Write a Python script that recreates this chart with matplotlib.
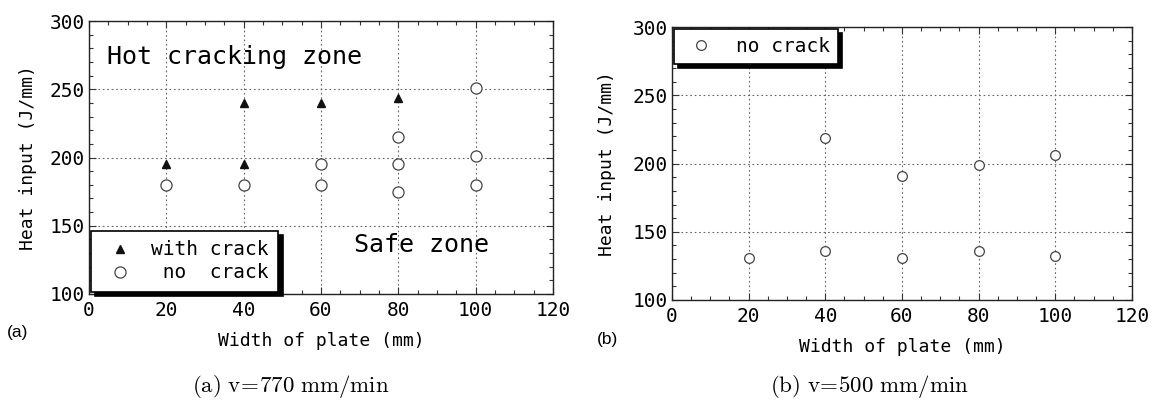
import matplotlib
matplotlib.use("Agg")
import matplotlib.pyplot as plt
from matplotlib.ticker import MultipleLocator

plt.rcParams['font.family'] = ['DejaVu Sans Mono']
plt.rcParams['mathtext.fontset'] = 'cm'

# (a) v=770 mm/min
crack_x_a = [20, 40, 40, 60, 80]
crack_y_a = [195, 195, 240, 240, 244]
nocrack_x_a = [20, 40, 60, 60, 80, 80, 80, 100, 100, 100]
nocrack_y_a = [180, 180, 180, 195, 175, 195, 215, 180, 201, 251]

# (b) v=500 mm/min
nocrack_x_b = [20, 40, 40, 60, 60, 80, 80, 100, 100]
nocrack_y_b = [131, 136, 219, 131, 191, 136, 199, 132, 206]

xticks = [0, 20, 40, 60, 80, 100, 120]
yticks = [100, 150, 200, 250, 300]


def style_axes(ax):
    ax.set_xlim(0, 120)
    ax.set_ylim(100, 300)
    ax.set_xticks(xticks)
    ax.set_yticks(yticks)
    ax.xaxis.set_minor_locator(MultipleLocator(5))
    ax.yaxis.set_minor_locator(MultipleLocator(10))
    ax.tick_params(which='both', direction='in', top=True, right=True,
                   color='#333333', width=0.8)
    ax.tick_params(which='major', length=5, labelsize=14)
    ax.tick_params(which='minor', length=3)
    ax.tick_params(axis='y', pad=3)
    ax.tick_params(axis='x', pad=5)
    ax.grid(True, which='major', linestyle=(0, (1.5, 2.5)), color='#666666', linewidth=0.8)
    for s in ax.spines.values():
        s.set_color('#222222')
        s.set_linewidth(1.0)
    ax.set_xlabel('Width of plate (mm)', fontsize=13)
    ax.set_ylabel('Heat input (J/mm)', fontsize=13)


fig = plt.figure(figsize=(11.54, 4.03), dpi=100)
ax1 = fig.add_axes([0.0771, 0.2705, 0.402, 0.677])
ax2 = fig.add_axes([0.5823, 0.2556, 0.3986, 0.677])

style_axes(ax1)
ax1.plot(crack_x_a, crack_y_a, linestyle='none', marker='^', color='#111111',
         markersize=6, label='with crack', zorder=3)
ax1.plot(nocrack_x_a, nocrack_y_a, linestyle='none', marker='o', markerfacecolor='white',
         markeredgecolor='#444444', markersize=8, markeredgewidth=0.9,
         label=' no  crack', zorder=3)
ax1.text(4.7, 273.5, 'Hot cracking zone', fontsize=18, va='center', ha='left')
ax1.text(68.5, 136, 'Safe zone', fontsize=18, va='center', ha='left')
leg1 = ax1.legend(loc='lower left', bbox_to_anchor=(0, 0), borderaxespad=0.1,
                  fancybox=False, edgecolor='black', framealpha=1, fontsize=14,
                  shadow={'color': 'black', 'alpha': 1, 'ox': 3, 'oy': -3},
                  handletextpad=0.6, borderpad=0.5, labelspacing=0.2)
leg1.get_frame().set_linewidth(1.2)
ax1.yaxis.set_label_coords(-0.112, 0.5)
ax1.xaxis.set_label_coords(0.5, -0.14)

style_axes(ax2)
ax2.plot(nocrack_x_b, nocrack_y_b, linestyle='none', marker='o', markerfacecolor='white',
         markeredgecolor='#444444', markersize=7, markeredgewidth=0.9,
         label='no crack', zorder=3)
leg2 = ax2.legend(loc='upper left', bbox_to_anchor=(0, 1), borderaxespad=0.1,
                  fancybox=False, edgecolor='black', framealpha=1, fontsize=14,
                  shadow={'color': 'black', 'alpha': 1, 'ox': 3, 'oy': -3},
                  handletextpad=0.8, borderpad=0.4)
leg2.get_frame().set_linewidth(1.2)
ax2.yaxis.set_label_coords(-0.122, 0.5)
ax2.xaxis.set_label_coords(0.5, -0.14)

# panel tags
fig.text(0.006, 0.176, '(a)', fontsize=12.5, family=['Liberation Sans'], va='center')
fig.text(0.517, 0.157, '(b)', fontsize=12.5, family=['Liberation Sans'], va='center')

# captions
fig.text(0.252, 0.04, r'$\mathrm{(a)\ v\!=\!770\ mm/min}$', fontsize=16.5, ha='center', va='center')
fig.text(0.753, 0.04, r'$\mathrm{(b)\ v\!=\!500\ mm/min}$', fontsize=16.5, ha='center', va='center')

fig.savefig('out.png', dpi=100)
